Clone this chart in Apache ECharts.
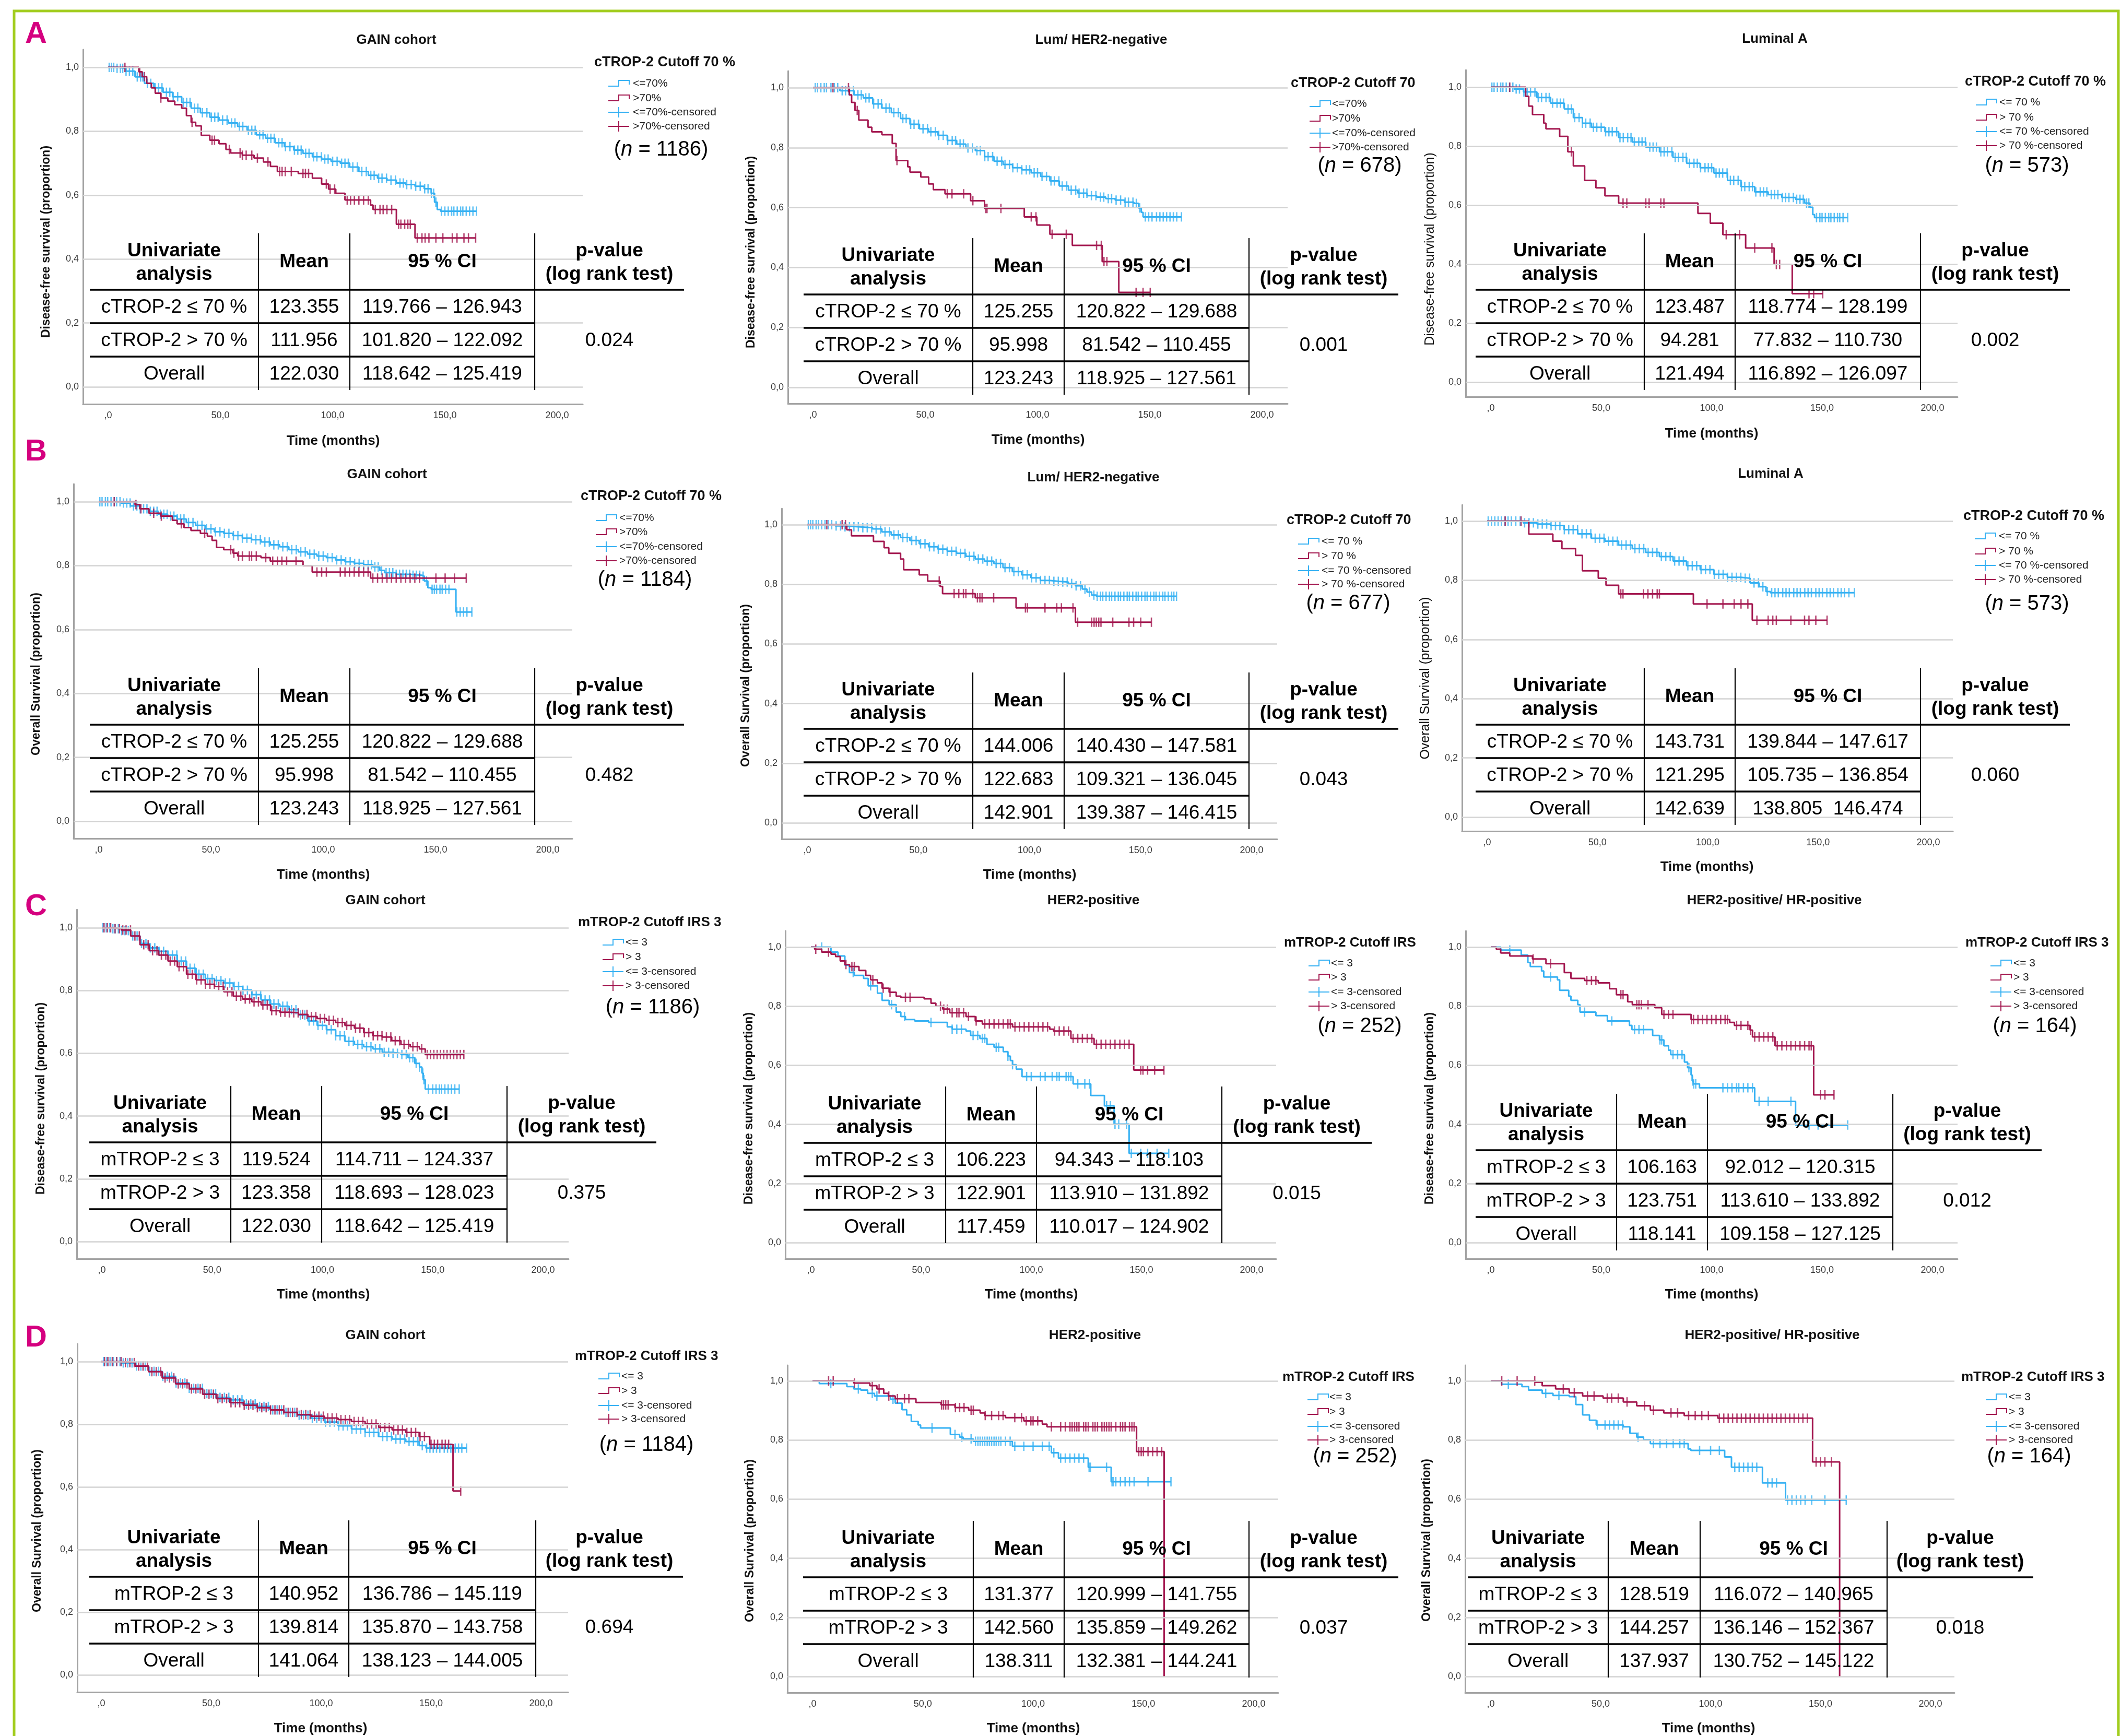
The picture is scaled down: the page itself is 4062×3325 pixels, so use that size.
<!DOCTYPE html>
<html><head><meta charset="utf-8">
<script src="https://cdn.jsdelivr.net/npm/echarts@6/dist/echarts.min.js"></script>
<style>html,body{margin:0;padding:0;background:#fff}#c{width:4062px;height:3325px}</style>
</head><body><div id="c"></div>
<script>
// ---------------- DATA ----------------
const xTickValues = [0, 50, 100, 150, 200];
const yTickValues = [0, 0.2, 0.4, 0.6, 0.8, 1];

// A1 GAIN cohort DFS
const a1BlueSteps = [[0,1],[3.7,.997],[7.9,.988],[12,.97],[16.2,.95],[20.4,.936],[24.5,.922],[28.7,.908],[32.8,.89],[37,.872],[41.1,.858],[45.3,.844],[49.4,.835],[53.6,.826],[57.7,.815],[61.9,.803],[66,.789],[70.2,.778],[74.4,.764],[78.5,.752],[82.7,.741],[86.8,.731],[91,.72],[95.1,.713],[99.3,.706],[103.4,.7],[107.6,.688],[111.7,.674],[115.9,.662],[120,.653],[124.2,.647],[128.4,.638],[132.5,.633],[136.7,.628],[140.8,.62],[143.9,.606],[145.4,.578],[146.6,.555],[148.1,.55]];
const a1BlueCens = [0.5,1.5,2.5,4,5.5,6.5,8,9.5,11,13,14.5,15.5,17.5,19,21,22.5,24,26,27.5,29,31,33.5,35,36.5,38.5,40,42,44,46,47.5,49,51,53,55,56.5,58.5,60,62.5,64,65.5,67.5,69,71,72.5,74,76,77.5,79,81,83,84.5,86,88,89.5,91.5,93,95,96.5,98,100,102,104,105.5,107,109,111,113,115,117,118.5,120.5,122,124,126,128,130,131.5,133,135,137,139,141,142.5,144,145,146,148.5,150,151.5,153,154,155.5,157,158,159.5,161,162.5,164.1];
const a1RedSteps = [[0,1],[13.7,.986],[15.2,.971],[17.2,.95],[19.3,.936],[21,.919],[23.5,.904],[26.6,.894],[29.7,.883],[32.8,.872],[34.9,.849],[37,.828],[39,.817],[41.5,.787],[45.3,.772],[49.4,.761],[52.5,.743],[54.6,.732],[59.8,.725],[65,.716],[69.2,.704],[72.3,.69],[75.4,.674],[84.7,.668],[91,.653],[95.1,.635],[98.2,.619],[101.4,.606],[105.5,.585],[116.9,.569],[118,.555],[128.4,.509],[136.7,.466]];
const a1RedCens = [7.5,14.1,16.2,23.5,37.4,46.3,47.4,54,58.8,59.8,61.5,64,66.5,71.2,76.4,77.5,78.9,81.6,86.8,87.9,89.3,97.2,98.9,100.9,106.5,108,109.7,111.7,113.8,115.9,119,121.1,122.5,124.2,126.3,129.4,130.4,132.1,133.5,134.6,137.7,139.8,141.2,142.9,146,149.1,153.3,155.4,158.5,160.5,163.7];
const a1Table = [['cTROP-2 ≤ 70 %','123.355','119.766 – 126.943'],['cTROP-2 > 70 %','111.956','101.820 – 122.092'],['Overall','122.030','118.642 – 125.419']];
const a1P = '0.024';

// A2 Lum/HER2-negative DFS
const a2BlueSteps = [[0,1],[12,.99],[18.3,.976],[22.4,.966],[26.6,.946],[30.7,.932],[34.9,.917],[39,.897],[43.2,.878],[47.4,.863],[51.5,.853],[55.7,.841],[59.8,.824],[64,.812],[68.1,.799],[72.3,.79],[76.4,.77],[80.6,.755],[84.7,.744],[88.9,.733],[93,.726],[97.2,.716],[101.4,.704],[105.5,.689],[109.7,.672],[113.8,.658],[118,.648],[122.1,.64],[126.3,.635],[130.4,.63],[134.6,.625],[138.7,.618],[142.9,.614],[145,.599],[146.2,.584],[147,.569]];
const a2BlueCens = [1,2,3.5,5,6,8,9.5,11,13,14.5,16,18,20,21.5,23.5,25,27,29,30.5,32.5,34,36,38,40,41.5,43.5,45,47,49,51,52.5,54.5,56,58,60,62,63.5,65.5,67,69,71,73,74.5,76.5,78,80,82,84,85.5,87.5,89,91,93,95,96.5,98.5,100,102,104,106,107.5,109.5,111,113,115,117,118.5,120.5,122,124,126,128,129.5,131.5,133,135,137,139,140.5,142.5,144,145.5,148,149.5,151,153,154.5,156,157.5,159,160.5,162,164.1];
const a2RedSteps = [[0,1],[16.2,.976],[17.2,.951],[18.7,.924],[20.4,.892],[24.5,.868],[26.2,.853],[30.7,.843],[35.3,.814],[37,.757],[42.2,.736],[43.2,.718],[48,.702],[51.5,.679],[53.6,.66],[58.8,.646],[70.2,.623],[76.4,.597],[94.1,.569],[99.7,.542],[105.5,.511],[115.5,.474],[128.8,.42],[136.2,.317]];
const a2RedCens = [8.9,15.8,19.7,37.4,59.8,61.9,67.1,71.2,76.9,77.5,83.7,97.2,99.3,106.5,112.8,126.3,128.4,129.6,130.9,143.9,147,150.2];
const a2Table = [['cTROP-2 ≤ 70 %','125.255','120.822 – 129.688'],['cTROP-2 > 70 %','95.998','81.542 – 110.455'],['Overall','123.243','118.925 – 127.561']];
const a2P = '0.001';

// A3 Luminal A DFS
const a3BlueSteps = [[0,1],[10.7,.994],[14.8,.984],[20.9,.965],[27.1,.946],[33.3,.926],[37.4,.897],[41.5,.878],[45.6,.864],[51.7,.849],[57.9,.829],[64.1,.814],[70.2,.797],[76.4,.781],[82.5,.762],[88.7,.742],[94.8,.727],[101,.709],[107.2,.684],[113.3,.663],[119.5,.645],[125.6,.636],[131.8,.626],[138,.62],[142.1,.607],[144.5,.593],[145.8,.568],[146.6,.558]];
const a3BlueCens = [0.5,1.5,3,4.5,5.5,7,8.5,10,11.5,13,15,16.5,18,20,21.5,23,25,26.5,28,30,31.5,33,35,36.5,38,40,41.5,43,45,46.5,48,50,52,53.5,55,57,58.5,60,62,63.5,65,67,68.5,70,72,73.5,75,77,78.5,80,82,83.5,85,87,88.5,90,92,93.5,95,97,98.5,100,102,103.5,105,107,108.5,110,112,113.5,115,117,118.5,120,122,123.5,125,127,128.5,130,132,133.5,135,137,138.5,140,141.5,143,144,147.5,149,150,151.5,153,154,155.5,157,158,159.5,161.6];
const a3RedSteps = [[0,1],[15.8,.969],[17.2,.936],[18.9,.907],[24,.878],[25,.859],[31.2,.833],[34.9,.781],[37.4,.733],[42.5,.684],[47.6,.659],[51.7,.632],[57.9,.607],[93.8,.572],[99.4,.539],[105.1,.5],[115.4,.455],[128.3,.399],[136.5,.3]];
const a3RedCens = [8.6,36.5,59.9,61.6,70.2,71.7,77,78.4,106.6,112.7,119.5,127.3,129.3,130.8,144.1,146.2,150.3];
const a3Table = [['cTROP-2 ≤ 70 %','123.487','118.774 – 128.199'],['cTROP-2 > 70 %','94.281','77.832 – 110.730'],['Overall','121.494','116.892 – 126.097']];
const a3P = '0.002';

// B1 GAIN cohort OS
const b1BlueSteps = [[0,1],[10,.996],[14.1,.987],[18.3,.978],[22.4,.97],[26.6,.961],[30.7,.955],[34.9,.946],[39,.935],[43.2,.926],[47.4,.915],[51.5,.906],[55.7,.901],[59.8,.894],[64,.886],[68.1,.881],[72.3,.874],[76.4,.865],[80.6,.859],[84.7,.85],[88.9,.843],[93,.836],[97.2,.83],[101.4,.825],[105.5,.818],[109.7,.812],[113.8,.807],[118,.803],[122.1,.796],[125.2,.785],[127.3,.778],[132.5,.773],[138.7,.77],[143.9,.767],[145,.752],[146.6,.731],[148.1,.726],[159.1,.655]];
const b1BlueCens = [0.5,1.5,3,4,5.5,7,8,9.5,11,12.5,14,15.5,17,18.5,20,21.5,23,24.5,26,27.5,29,30.5,32,33.5,35,36.5,38,40,42,44,46,48,50,52,54,56,58,60,62,64,66,68,70,72,74,76,78,80,82,84,86,88,90,92,94,96,98,100,102,104,106,108,110,112,114,116,118,120,121.5,123,124.5,126,128,129.5,131,132.5,134,135.5,137,138.5,140,141.5,143,144.5,146,148.5,149.5,150.5,152,153,154.5,156,159.5,161,162.5,164,166.2];
const b1RedSteps = [[0,1],[16.2,.991],[18.3,.978],[22.4,.964],[27.6,.955],[32.8,.942],[34.9,.931],[38,.919],[41.1,.91],[45.3,.901],[48.4,.892],[50.5,.879],[52.5,.857],[55.7,.85],[59.8,.839],[61.9,.83],[72.3,.825],[76.4,.814],[91,.8],[95.1,.78],[121.1,.761]];
const b1RedCens = [6.9,16.6,18.8,24.5,27.9,36.8,47.2,58.8,60.2,62.3,64,67.1,68.1,70.2,74.4,77.5,79.6,81.6,83.7,87.9,97.2,99.3,101.4,107.6,109.7,111.7,113.8,115.9,118,120,122.1,124.2,126.3,128.4,130.4,132.5,134.6,136.7,138.7,140.8,142.9,150.2,154.3,158.5,163.7];
const b1Table = [['cTROP-2 ≤ 70 %','125.255','120.822 – 129.688'],['cTROP-2 > 70 %','95.998','81.542 – 110.455'],['Overall','123.243','118.925 – 127.561']];
const b1P = '0.482';

// B2 Lum/HER2-negative OS
const b2BlueSteps = [[0,1],[12.6,.996],[16.8,.993],[23.1,.99],[29.4,.986],[33.6,.976],[37.8,.966],[42,.957],[46.2,.947],[50.4,.936],[54.6,.926],[58.8,.918],[63,.911],[67.2,.904],[71.4,.894],[75.6,.885],[79.8,.878],[84,.87],[88.1,.856],[92.3,.843],[96.5,.832],[100.7,.822],[104.9,.813],[109.1,.81],[113.3,.808],[117.5,.803],[120.7,.795],[123.8,.784],[125.9,.774],[128,.764],[130.1,.76]];
const b2BlueCens = [0.5,1.5,2.5,4,5,6.5,8,9.5,11,13,15,17,19,21,23,25,27,29,31,33,35,37,39,41,43,45,47,49,51,53,55,57,59,61,63,65,67,69,71,73,75,77,79,81,83,85,87,89,91,93,95,97,99,101,103,105,107,109,111,113,115,117,119,121,123,125,127,129,130.5,132,133,134.5,136,137,138.5,140,141,142.5,144,145,146.5,148,149,150.5,152,153,154.5,156,157,158.5,160,161,162.5,164,165,166.2];
const b2RedSteps = [[0,1],[17.8,.983],[19.9,.963],[29.8,.944],[34.6,.923],[36.7,.904],[42,.885],[43.4,.849],[50.4,.832],[54.2,.811],[59.8,.793],[60.9,.769],[75.6,.755],[94,.721],[120.7,.673]];
const b2RedCens = [8.8,15.7,17.2,59.4,66.1,68.2,70.3,71.4,74.5,76.6,77.7,78.7,83.9,98.2,99.1,107,112.3,114.4,119.6,121.7,128,129.1,130.1,131.2,132.2,137.5,144.8,146.9,150.1,154.9];
const b2Table = [['cTROP-2 ≤ 70 %','144.006','140.430 – 147.581'],['cTROP-2 > 70 %','122.683','109.321 – 136.045'],['Overall','142.901','139.387 – 146.415']];
const b2P = '0.043';

// B3 Luminal A OS
const b3BlueSteps = [[0,1],[16.4,.994],[22.6,.99],[28.8,.985],[34.9,.971],[41.1,.957],[47.3,.942],[53.4,.932],[59.6,.919],[65.8,.907],[71.9,.894],[78.1,.88],[84.3,.865],[90.4,.849],[96.6,.836],[102.8,.82],[108.9,.81],[115.1,.807],[119.2,.791],[123.3,.778],[126.4,.762],[128.4,.758]];
const b3BlueCens = [0.5,2,3.5,5,6.5,8,9.5,11,13,15,17,19,21,23,25,27,29,31,33,35,37,39,41,43,45,47,49,51,53,55,57,59,61,63,65,67,69,71,73,75,77,79,81,83,85,87,89,91,93,95,97,99,101,103,105,107,109,111,113,115,117,119,121,123,125,127,129,130.5,132,134,135.5,137,139,140.5,142,144,145.5,147,149,150.5,152,154,155.5,157,159,160.5,162,164,166.5];
const b3RedSteps = [[0,1],[18.9,.956],[29.8,.932],[33.9,.907],[40.1,.884],[43.2,.832],[50.4,.807],[53.9,.783],[59.6,.754],[93.5,.72],[120.2,.665]];
const b3RedCens = [8.2,15.4,60.6,61.6,70.9,72.9,75,77.1,78.1,99.7,106.9,112,115.1,118.2,122.3,127.4,129.5,131.1,137.7,143.9,145.9,149,154.1];
const b3Table = [['cTROP-2 ≤ 70 %','143.731','139.844 – 147.617'],['cTROP-2 > 70 %','121.295','105.735 – 136.854'],['Overall','142.639','138.805  146.474']];
const b3P = '0.060';

// C1 GAIN cohort DFS (mTROP-2)
const c1BlueSteps = [[0,1],[4.6,.997],[8.9,.991],[13.1,.974],[17.3,.95],[21.5,.936],[25.8,.925],[30,.913],[34.2,.894],[38.4,.871],[42.7,.852],[46.9,.838],[51.1,.832],[55.3,.824],[59.6,.813],[63.8,.801],[68,.787],[72.2,.77],[76.5,.757],[80.7,.75],[84.9,.739],[89.1,.722],[93.4,.703],[97.6,.689],[101.8,.675],[106,.656],[110.2,.638],[114.5,.628],[118.7,.621],[122.9,.614],[127.1,.603],[131.4,.6],[135.6,.596],[138.8,.586],[141.9,.568],[144,.556],[145.1,.537],[145.7,.516],[146.6,.486]];
const c1BlueCens = [0.5,2,3.5,5,6,7.5,9,10.5,12,14,16,18,20,22,24,26,28,30,32,34,36,38,40,42,44,46,48,50,52,54,56,58,60,62,64,66,68,70,72,74,76,78,80,82,84,86,88,90,92,94,96,98,100,102,104,106,108,110,112,114,116,118,120,122,124,126,128,130,132,134,136,138,139.5,141,142.5,144,145.5,146,148,150,151.5,153,154,155.5,157,158.5,160,162];
const c1RedSteps = [[0,1],[4.6,.997],[8.9,.993],[13.1,.974],[17.3,.946],[21.5,.927],[25.8,.913],[30,.894],[34.2,.876],[38.4,.852],[42.7,.834],[46.9,.82],[51.1,.813],[55.3,.796],[59.6,.782],[63.8,.773],[68,.764],[72.2,.754],[76.5,.736],[80.7,.731],[84.9,.729],[89.1,.724],[93.4,.717],[97.6,.711],[101.8,.705],[106,.698],[110.2,.689],[114.5,.68],[118.7,.666],[122.9,.656],[127.1,.652],[131.4,.64],[135.6,.628],[139.8,.621],[144,.614],[146.6,.596]];
const c1RedCens = [1,2.5,4,6,8,9.5,11,13,15,17,19,21,23,25,27,29,31,33,35,37,39,41,43,45,47,49,51,53,55,57,59,61,63,65,67,69,71,73,75,77,79,81,83,85,87,89,91,93,95,97,99,101,103,105,107,109,111,113,115,117,119,121,123,125,127,129,131,133,135,137,139,141,143,145,147.5,149,150.5,152,153.5,155,156.5,158,159.5,161,162.5,164.1];
const c1Table = [['mTROP-2 ≤ 3','119.524','114.711 – 124.337'],['mTROP-2 > 3','123.358','118.693 – 128.023'],['Overall','122.030','118.642 – 125.419']];
const c1P = '0.375';

// C2 HER2-positive DFS
const c2BlueSteps = [[0,1],[9.1,.983],[12.3,.97],[15.4,.939],[17.5,.914],[19.7,.904],[23.9,.894],[26,.869],[30.2,.844],[32.3,.82],[35.5,.805],[38.7,.78],[40.8,.765],[42.9,.755],[47.1,.75],[53.5,.745],[61.9,.73],[64.1,.722],[70.4,.716],[72.5,.701],[76.7,.691],[79.9,.671],[83.1,.661],[87.3,.646],[89.4,.631],[90.5,.616],[91.5,.602],[93.2,.587],[95.8,.562],[119,.537],[127,.498],[133.2,.463],[137.6,.401],[144.4,.302]];
const c2BlueCens = [4.9,19.2,27.1,36.6,42.5,54.5,64.1,66.2,68.3,73.6,75.7,77.8,78.9,84.1,85.2,89.4,91.5,97.9,100,104.2,106.3,109.5,111.6,112.7,115.8,116.9,118,121.1,124.3,126.4,134.2,135.9,138,139.7,143.3,145.4,149.7,152.8,157.1,162.4];
const c2RedSteps = [[0,1],[1.7,.993],[4.9,.983],[9.1,.976],[11.2,.968],[13.3,.953],[15.4,.941],[17.5,.934],[21.8,.921],[24.9,.904],[27.1,.889],[30.2,.879],[32.3,.861],[35.5,.847],[38.7,.834],[40.8,.83],[51.4,.825],[54.5,.81],[56.7,.8],[59.8,.79],[63,.778],[70.4,.765],[74.6,.75],[77.8,.74],[91.5,.73],[108.4,.722],[110.1,.716],[118,.691],[128.5,.671],[146.5,.584]];
const c2RedCens = [2.2,8,15.9,18.6,19.7,28.1,32.8,35.9,42.9,45,58.8,60.3,61.9,64.1,66.2,67.2,69.3,71.5,75,78.9,81,83.1,85.2,87.3,89.4,90.5,92.6,94.7,96.8,98.9,101,103.2,105.3,107.4,110.6,112.7,114.8,116.9,119,121.1,123.2,125.4,127.5,129.6,131.7,133.8,135.9,138,140.2,142.3,144.4,149.7,150.7,152.8,156,160.2];
const c2Table = [['mTROP-2 ≤ 3','106.223','94.343 – 118.103'],['mTROP-2 > 3','122.901','113.910 – 131.892'],['Overall','117.459','110.017 – 124.902']];
const c2P = '0.015';

// C3 HER2-positive/HR-positive DFS
const c3BlueSteps = [[0,1],[4.5,.99],[13.8,.973],[16.8,.948],[17.9,.934],[23,.919],[24,.899],[30.2,.889],[31.2,.854],[35.3,.834],[36.3,.82],[39.4,.805],[40.4,.78],[47.6,.768],[52.8,.75],[62.8,.735],[63.9,.721],[73.3,.701],[76.4,.686],[78.4,.666],[80.5,.651],[81.5,.636],[87.7,.611],[89.1,.592],[90.7,.567],[91.2,.547],[91.8,.537],[94.5,.524],[119.5,.478],[138,.398]];
const c3BlueCens = [8.6,27.1,42.5,54.8,65.1,67.1,69.2,76.6,77.4,82.5,84.6,86.6,89.7,91.4,91.9,92.8,105.1,107.2,109.2,111.3,112.3,114.4,116.4,118.5,121.5,125.6,135.9,144.1,148.2,161.6];
const c3RedSteps = [[0,1],[2.5,.993],[4.5,.98],[8.6,.97],[18.9,.96],[25,.944],[33.3,.914],[36.3,.894],[42.5,.887],[48.7,.879],[53.8,.859],[56.9,.839],[62,.815],[64.1,.805],[74.3,.795],[77.4,.772],[90.7,.755],[108.2,.745],[110.3,.735],[117.4,.719],[118.5,.696],[128.7,.666],[146.2,.5]];
const c3RedCens = [19.2,27.1,43.5,45.6,47.6,58.9,59.9,66.1,67.1,68.2,71.2,78.4,80.5,82.5,90.9,91.8,93.8,95.9,97.9,100,102,104.1,106.1,107.2,111.3,113.3,116.4,117.6,119.5,121.5,123.6,125.6,127.7,129.7,131.8,133.9,135.9,138,140,142.1,144.1,145.1,149.3,151.3,155.4];
const c3Table = [['mTROP-2 ≤ 3','106.163','92.012 – 120.315'],['mTROP-2 > 3','123.751','113.610 – 133.892'],['Overall','118.141','109.158 – 127.125']];
const c3P = '0.012';

// D1 GAIN cohort OS (mTROP-2)
const d1BlueSteps = [[0,1],[9.2,.996],[15.4,.986],[21.5,.969],[27.7,.953],[33.8,.932],[40,.915],[46.1,.898],[52.3,.886],[58.5,.878],[64.6,.865],[70.8,.857],[76.9,.846],[83.1,.838],[89.2,.829],[95.4,.819],[101.5,.807],[107.7,.795],[113.8,.785],[120,.774],[126.2,.761],[132.3,.753],[138.5,.745],[144.6,.732],[147.7,.724]];
const d1BlueCens = [1,2.5,4,5.5,7,8.5,10,12,14,16,18,20,22,24,26,28,30,32,34,36,38,40,42,44,46,48,50,52,54,56,58,60,62,64,66,68,70,72,74,76,78,80,82,84,86,88,90,92,94,96,98,100,102,104,106,108,110,112,114,116,118,120,122,124,126,128,130,132,134,136,138,140,142,144,146,148,149.5,151,152.5,154,156,157.5,159,161,162.5,164,166.2];
const d1RedSteps = [[0,1],[9.2,.997],[15.4,.986],[21.5,.968],[27.7,.948],[33.8,.929],[40,.913],[46.1,.896],[52.3,.882],[58.5,.869],[64.6,.861],[70.8,.853],[76.9,.846],[83.1,.838],[89.2,.831],[95.4,.826],[101.5,.82],[107.7,.815],[113.8,.809],[120,.801],[126.2,.79],[132.3,.782],[138.5,.774],[144.6,.761],[149.4,.736],[160,.587]];
const d1RedCens = [1.5,3,5,7,9,11,13,15,17,19,21,23,25,27,29,31,33,35,37,39,41,43,45,47,49,51,53,55,57,59,61,63,65,67,69,71,73,75,77,79,81,83,85,87,89,91,93,95,97,99,101,103,105,107,109,111,113,115,117,119,121,123,125,127,129,131,133,135,137,139,141,143,145,147,150,151.5,153,155,156.5,158,163.5];
const d1Table = [['mTROP-2 ≤ 3','140.952','136.786 – 145.119'],['mTROP-2 > 3','139.814','135.870 – 143.758'],['Overall','141.064','138.123 – 144.005']];
const d1P = '0.694';

// D2 HER2-positive OS
const d2BlueSteps = [[0,1],[3.1,.991],[15.6,.981],[18.7,.973],[21.9,.969],[25,.958],[28.1,.949],[35.4,.938],[37.5,.925],[40.6,.903],[42.7,.885],[44.8,.863],[47.9,.851],[49,.841],[62.5,.819],[66.7,.81],[68.3,.804],[72.9,.796],[90.6,.779],[108.3,.757],[111.5,.739],[125,.708],[135.4,.659]];
const d2BlueCens = [8.3,20.8,27.1,29.2,36.5,54.2,64.6,67.7,71.9,73.9,75,76,77.1,78.1,79.2,80.2,81.2,82.3,83.3,84.4,85.4,87.5,89.6,91.7,95.8,100,104.2,107.3,109.4,112.5,114.6,116.7,118.8,120.8,122.9,125.4,126,133.3,135.8,136.4,137.5,139.6,141.7,143.7,145.8,152.1,162.5];
const d2RedSteps = [[0,1],[18.7,.993],[26,.984],[29.2,.973],[32.3,.958],[34.4,.949],[37.5,.94],[46.9,.927],[58.3,.919],[64.6,.91],[70.8,.901],[76,.892],[78.1,.883],[87.5,.876],[95.8,.865],[104.2,.854],[106.3,.845],[146.9,.761],[159.4,0]];
const d2RedCens = [7.3,9.4,19,27.1,30.2,34.6,38.5,41.7,43.7,58.5,59.4,60.4,61.5,64.8,66.7,68.7,71.9,72.9,78.3,81.2,84.4,86.4,91.7,94.8,96.9,99,100,102.1,108.3,112.5,114.6,116.7,117.7,118.8,119.8,120.8,122.9,123.9,125,127.1,128.1,129.2,131.2,132.3,133.3,134.4,135.4,137.5,139.6,140.6,141.7,143.7,144.8,145.8,147.9,149,150,152.1,154.2,156.2,158.3];
const d2Table = [['mTROP-2 ≤ 3','131.377','120.999 – 141.755'],['mTROP-2 > 3','142.560','135.859 – 149.262'],['Overall','138.311','132.381 – 144.241']];
const d2P = '0.037';

// D3 HER2-positive/HR-positive OS
const d3BlueSteps = [[0,1],[4.9,.989],[14.2,.981],[17.2,.969],[23.4,.958],[28.3,.951],[35.7,.947],[38.7,.92],[41.8,.885],[44.9,.867],[48,.851],[60.3,.845],[63.3,.823],[66.4,.81],[69.5,.801],[72.6,.788],[89.8,.77],[91,.765],[106.4,.743],[109.5,.708],[123.6,.655],[134.1,.597]];
const d3BlueCens = [8,25,31,48.5,52,54,56,58,60,67,74,77,80,83,86,88,95,100,104,111,113,115,117,119,121,126,128,130,135,137,139,141,143,146,152,161.7];
const d3RedSteps = [[0,1],[20.3,.996],[23.4,.984],[29.5,.973],[35.7,.96],[41.8,.949],[51.1,.942],[60.3,.929],[66.4,.916],[72.6,.901],[78.7,.892],[88,.883],[103.3,.874],[146.4,.726],[158.7,0]];
const d3RedCens = [5,12,20,33,38,44,47,53,55,58,62,70,74,82,85,90,93,96,99,104,106,108,110,112,114,116,118,120,122,124,126,128,130,132,134,136,138,140,142,144,148,150,152,155];
const d3Table = [['mTROP-2 ≤ 3','128.519','116.072 – 140.965'],['mTROP-2 > 3','144.257','136.146 – 152.367'],['Overall','137.937','130.752 – 145.122']];
const d3P = '0.018';

// text content
const panelTitles = ['GAIN cohort','Lum/ HER2-negative','Luminal A','GAIN cohort','Lum/ HER2-negative','Luminal A','GAIN cohort','HER2-positive','HER2-positive/ HR-positive','GAIN cohort','HER2-positive','HER2-positive/ HR-positive'];
const DFS = 'Disease-free survival (proportion)', OS = 'Overall Survival (proportion)';
const yTitles = [DFS,DFS,DFS,OS,OS,OS,DFS,DFS,DFS,OS,OS,OS];
const legendTitles = ['cTROP-2 Cutoff 70 %','cTROP-2 Cutoff 70 %','cTROP-2 Cutoff 70 %','cTROP-2 Cutoff 70 %','cTROP-2 Cutoff 70 %','cTROP-2 Cutoff 70 %','mTROP-2 Cutoff IRS 3','mTROP-2 Cutoff IRS 3','mTROP-2 Cutoff IRS 3','mTROP-2 Cutoff IRS 3','mTROP-2 Cutoff IRS 3','mTROP-2 Cutoff IRS 3'];
const legendItemsA = ['<=70%','>70%','<=70%-censored','>70%-censored'];
const legendItemsB = ['<= 70 %','> 70 %','<= 70 %-censored','> 70 %-censored'];
const legendItemsC = ['<= 3','> 3','<= 3-censored','> 3-censored'];
const nValues = ['1186','678','573','1184','677','573','1186','252','164','1184','252','164'];
const headerLabels = [['Univariate','analysis'],['Mean'],['95 % CI'],['p-value','(log rank test)']];
const panelLetters = ['A','B','C','D'];

// ---------------- LAYOUT (positions / sizes) ----------------
const geo = [
 {L:159,R:1116,T:95,B:774,X0:207,X200:1067,Y1:129,Y0:741, title:[759,77], yt:[89,463], xt:[638,845], leg:{x:1138,y:120,it:[160,188,215,242],ix:1165,lx:1212,fs:27}, n:[1266,287], tab:{x:[172,495,670,1024,1310],y:447}},
 {L:1509,R:2466,T:136,B:773,X0:1557,X200:2417,Y1:168,Y0:742, title:[2109,77], yt:[1439,483], xt:[1988,843], leg:{x:2472,y:160,it:[199,227,255,282],ix:2508,lx:2551,clip:2730,fs:27}, n:[2604,318], tab:{x:[1539,1863,2038,2392,2678],y:456}},
 {L:2807,R:3749,T:134,B:760,X0:2855,X200:3701,Y1:167,Y0:732, title:[3399,75], yt:[2739,477], xt:[3278,831], leg:{x:3763,y:157,it:[196,225,252,279],ix:3784,lx:3829,fs:27}, n:[3882,318], tab:{x:[2826,3149,3323,3678,3964],y:447}, thinY:true},
 {L:141,R:1096,T:927,B:1606,X0:189,X200:1049,Y1:961,Y0:1573, title:[741,909], yt:[70,1291], xt:[619,1676], leg:{x:1112,y:951,it:[992,1019,1047,1074],ix:1141,lx:1186,fs:27}, n:[1235,1111], tab:{x:[172,495,670,1024,1310],y:1280}},
 {L:1497,R:2446,T:974,B:1607,X0:1546,X200:2397,Y1:1005,Y0:1576, title:[2094,915], yt:[1429,1313], xt:[1972,1676], leg:{x:2464,y:997,it:[1037,1065,1093,1119],ix:2486,lx:2531,clip:2730,fs:27}, n:[2582,1156], tab:{x:[1539,1863,2038,2392,2678],y:1288}},
 {L:2800,R:3740,T:967,B:1592,X0:2848,X200:3693,Y1:998,Y0:1565, title:[3391,908], yt:[2730,1299], xt:[3269,1661], leg:{x:3760,y:989,it:[1027,1056,1083,1110],ix:3782,lx:3828,fs:27}, n:[3882,1157], tab:{x:[2826,3149,3323,3678,3964],y:1280}, thinY:true},
 {L:147,R:1089,T:1742,B:2411,X0:195,X200:1040,Y1:1777,Y0:2378, title:[738,1725], yt:[79,2104], xt:[619,2480], leg:{x:1107,y:1767,it:[1805,1833,1861,1888],ix:1154,lx:1198,fs:26}, n:[1250,1930], tab:{x:[171,442,616,971,1257],y:2080}},
 {L:1504,R:2444,T:1783,B:2411,X0:1553,X200:2397,Y1:1814,Y0:2380, title:[2094,1725], yt:[1435,2123], xt:[1975,2480], leg:{x:2459,y:1806,it:[1845,1872,1900,1927],ix:2506,lx:2549,clip:2730,fs:26}, n:[2604,1966], tab:{x:[1539,1811,1985,2340,2627],y:2081}},
 {L:2807,R:3749,T:1783,B:2411,X0:2855,X200:3701,Y1:1814,Y0:2380, title:[3398,1725], yt:[2739,2123], xt:[3278,2480], leg:{x:3764,y:1806,it:[1845,1872,1900,1927],ix:3812,lx:3856,fs:26}, n:[3897,1966], tab:{x:[2826,3096,3270,3625,3910],y:2095}},
 {L:148,R:1088,T:2574,B:3241,X0:194,X200:1036,Y1:2608,Y0:3208, title:[738,2558], yt:[72,2932], xt:[614,3311], leg:{x:1101,y:2598,it:[2636,2664,2692,2718],ix:1146,lx:1190,fs:26}, n:[1238,2768], tab:{x:[171,495,668,1026,1308],y:2912}},
 {L:1508,R:2448,T:2615,B:3242,X0:1556,X200:2401,Y1:2645,Y0:3211, title:[2097,2558], yt:[1437,2951], xt:[1979,3311], leg:{x:2456,y:2638,it:[2676,2704,2732,2758],ix:2504,lx:2546,clip:2730,fs:26}, n:[2595,2790], tab:{x:[1538,1864,2038,2392,2678],y:2913}},
 {L:2806,R:3743,T:2615,B:3242,X0:2855,X200:3697,Y1:2645,Y0:3211, title:[3394,2558], yt:[2733,2950], xt:[3272,3311], leg:{x:3756,y:2638,it:[2676,2704,2732,2758],ix:3803,lx:3847,fs:26}, n:[3886,2790], tab:{x:[2811,3080,3256,3614,3894],y:2913}}
];
const letterPos = [[69,66],[69,866],[69,1737],[69,2563]];

const panels = [
 {blue:a1BlueSteps,blueC:a1BlueCens,red:a1RedSteps,redC:a1RedCens,table:a1Table,p:a1P,items:legendItemsA},
 {blue:a2BlueSteps,blueC:a2BlueCens,red:a2RedSteps,redC:a2RedCens,table:a2Table,p:a2P,items:legendItemsA},
 {blue:a3BlueSteps,blueC:a3BlueCens,red:a3RedSteps,redC:a3RedCens,table:a3Table,p:a3P,items:legendItemsB},
 {blue:b1BlueSteps,blueC:b1BlueCens,red:b1RedSteps,redC:b1RedCens,table:b1Table,p:b1P,items:legendItemsA},
 {blue:b2BlueSteps,blueC:b2BlueCens,red:b2RedSteps,redC:b2RedCens,table:b2Table,p:b2P,items:legendItemsB},
 {blue:b3BlueSteps,blueC:b3BlueCens,red:b3RedSteps,redC:b3RedCens,table:b3Table,p:b3P,items:legendItemsB},
 {blue:c1BlueSteps,blueC:c1BlueCens,red:c1RedSteps,redC:c1RedCens,table:c1Table,p:c1P,items:legendItemsC},
 {blue:c2BlueSteps,blueC:c2BlueCens,red:c2RedSteps,redC:c2RedCens,table:c2Table,p:c2P,items:legendItemsC},
 {blue:c3BlueSteps,blueC:c3BlueCens,red:c3RedSteps,redC:c3RedCens,table:c3Table,p:c3P,items:legendItemsC},
 {blue:d1BlueSteps,blueC:d1BlueCens,red:d1RedSteps,redC:d1RedCens,table:d1Table,p:d1P,items:legendItemsC},
 {blue:d2BlueSteps,blueC:d2BlueCens,red:d2RedSteps,redC:d2RedCens,table:d2Table,p:d2P,items:legendItemsC},
 {blue:d3BlueSteps,blueC:d3BlueCens,red:d3RedSteps,redC:d3RedCens,table:d3Table,p:d3P,items:legendItemsC}
];

// ---------------- BUILD ----------------
const FONT = '"Liberation Sans", Arial, Helvetica, sans-serif';
const BLUE = '#36b1f3', RED = '#a3174f', GRID = '#d3d3d3', AXIS = '#a3a3a3';

function stepData(steps, cens) {
  const d = steps.map(p => [p[0], p[1]]);
  const lastT = d[d.length - 1][0];
  const end = Math.max(lastT, cens.length ? cens[cens.length - 1] : 0);
  if (end > lastT) d.push([end, d[d.length - 1][1]]);
  return d;
}
function survAt(steps, t) {
  let s = 1;
  for (const p of steps) { if (p[0] <= t) s = p[1]; else break; }
  return s;
}
function fmtX(v) { return v === 0 ? ',0' : v.toFixed(1).replace('.', ','); }
function fmtY(v) { return v.toFixed(1).replace('.', ','); }

function txt(x, y, text, size, o) {
  o = o || {};
  const st = {
    text: text, fill: o.color || '#000',
    font: (o.italic ? 'italic ' : '') + (o.bold ? 'bold ' : '') + size + 'px ' + FONT,
    align: o.align || 'center', verticalAlign: 'middle',
    textAlign: o.align || 'center', textVerticalAlign: 'middle'
  };
  if (o.width) { st.width = o.width; st.overflow = 'truncate'; st.ellipsis = ''; }
  return { type: 'text', x: x, y: y, rotation: o.rot || 0, z: 20, silent: true, style: st };
}
function line(x1, y1, x2, y2, color, w) {
  return { type: 'line', z: 19, silent: true, shape: { x1, y1, x2, y2 }, style: { stroke: color, lineWidth: w } };
}

const grids = [], xAxes = [], yAxes = [], series = [], elements = [];

// frame
elements.push({ type: 'rect', z: 5, silent: true, shape: { x: 27, y: 21, width: 4030, height: 3400 }, style: { fill: null, stroke: '#a2cd1f', lineWidth: 5 } });
panelLetters.forEach((l, i) => elements.push(txt(letterPos[i][0], letterPos[i][1], l, 58, { bold: true, color: '#d5007f' })));

panels.forEach((p, i) => {
  const g = geo[i];
  const pxPerX = (g.X200 - g.X0) / 200, pxPerY = (g.Y0 - g.Y1);
  grids.push({ left: g.L, top: g.T, width: g.R - g.L, height: g.B - g.T, containLabel: false });
  xAxes.push({
    gridIndex: i, type: 'value',
    min: (g.L - g.X0) / pxPerX, max: (g.R - g.X0) / pxPerX,
    axisLine: { onZero: false, lineStyle: { color: AXIS, width: 3 } },
    axisTick: { show: false }, splitLine: { show: false },
    axisLabel: { customValues: xTickValues, formatter: fmtX, margin: 13, color: '#383838', fontSize: 18, fontFamily: FONT }
  });
  yAxes.push({
    gridIndex: i, type: 'value',
    min: -(g.B - g.Y0) / pxPerY, max: 1 + (g.Y1 - g.T) / pxPerY,
    axisLine: { onZero: false, lineStyle: { color: AXIS, width: 3 } },
    axisTick: { show: false }, splitLine: { show: false },
    axisLabel: { customValues: yTickValues, formatter: fmtY, margin: 8, color: '#383838', fontSize: 18, fontFamily: FONT }
  });
  // gridlines
  series.push({
    type: 'line', xAxisIndex: i, yAxisIndex: i, data: [[0, 1]], showSymbol: false, silent: true, z: 1,
    lineStyle: { width: 0, opacity: 0 },
    markLine: { silent: true, symbol: ['none', 'none'], label: { show: false }, animation: false,
      lineStyle: { color: GRID, width: 2.5, type: 'solid' }, data: yTickValues.map(v => ({ yAxis: v })) }
  });
  series.push({ type: 'line', step: 'end', xAxisIndex: i, yAxisIndex: i, data: stepData(p.blue, p.blueC), showSymbol: false, silent: true, z: 3, lineStyle: { color: BLUE, width: 3 } });
  series.push({ type: 'line', step: 'end', xAxisIndex: i, yAxisIndex: i, data: stepData(p.red, p.redC), showSymbol: false, silent: true, z: 4, lineStyle: { color: RED, width: 3 } });
  series.push({ type: 'scatter', xAxisIndex: i, yAxisIndex: i, silent: true, z: 3, symbol: 'rect', symbolSize: [2.6, 18], itemStyle: { color: BLUE }, data: p.blueC.map(t => [t, survAt(p.blue, t)]) });
  series.push({ type: 'scatter', xAxisIndex: i, yAxisIndex: i, silent: true, z: 4, symbol: 'rect', symbolSize: [2.6, 18], itemStyle: { color: RED }, data: p.redC.map(t => [t, survAt(p.red, t)]) });

  // titles
  elements.push(txt(g.title[0], g.title[1], panelTitles[i], 26, { bold: true, color: '#111' }));
  elements.push(txt(g.xt[0], g.xt[1], 'Time (months)', 26, { bold: true, color: '#111' }));
  elements.push(txt(g.yt[0], g.yt[1], yTitles[i], g.thinY ? 25 : 23, { bold: !g.thinY, color: '#111', rot: Math.PI / 2 }));

  // legend
  const lg = g.leg;
  elements.push(txt(lg.x, lg.y, legendTitles[i], lg.fs, { bold: true, align: 'left', color: '#111', width: lg.clip ? lg.clip - lg.x : 0 }));
  lg.it.forEach((yy, k) => {
    const col = k % 2 === 0 ? BLUE : RED;
    const x0 = lg.ix;
    if (k < 2) {
      elements.push({ type: 'polyline', z: 19, silent: true, shape: { points: [[x0, yy + 5], [x0 + 20, yy + 5], [x0 + 20, yy - 6], [x0 + 40, yy - 6], [x0 + 40, yy + 2]] }, style: { stroke: col, lineWidth: 2, fill: null } });
    } else {
      elements.push(line(x0, yy, x0 + 40, yy, col, 2));
      elements.push(line(x0 + 20, yy - 10, x0 + 20, yy + 10, col, 2));
    }
    elements.push(txt(lg.lx, yy, p.items[k], 21, { align: 'left', color: '#222', width: lg.clip ? lg.clip - lg.lx : 0 }));
  });

  // n label
  elements.push({ type: 'text', x: g.n[0], y: g.n[1], z: 20, silent: true, style: {
    text: '{a|(}{b|n}{a| = ' + nValues[i] + ')}', align: 'center', verticalAlign: 'middle', textAlign: 'center', textVerticalAlign: 'middle',
    rich: { a: { fontSize: 40, fontFamily: FONT, fill: '#000', color: '#000' }, b: { fontSize: 40, fontFamily: FONT, fontStyle: 'italic', fill: '#000', color: '#000' } }
  } });

  // table
  const tx = g.tab.x, ty = g.tab.y;
  for (let c = 1; c <= 3; c++) elements.push(line(tx[c], ty, tx[c], ty + 300, '#000', 2.2));
  elements.push(line(tx[0], ty + 108, tx[4], ty + 108, '#000', 3.5));
  elements.push(line(tx[0], ty + 172, tx[3], ty + 172, '#000', 3.5));
  elements.push(line(tx[0], ty + 236, tx[3], ty + 236, '#000', 3.5));
  const cx = [0, 1, 2, 3].map(c => (tx[c] + tx[c + 1]) / 2);
  headerLabels.forEach((h, c) => {
    if (h.length === 2) {
      elements.push(txt(cx[c], ty + 34, h[0], 37, { bold: true }));
      elements.push(txt(cx[c], ty + 79, h[1], 37, { bold: true }));
    } else {
      elements.push(txt(cx[c], ty + 55, h[0], 37, { bold: true }));
    }
  });
  p.table.forEach((row, r) => {
    row.forEach((cell, c) => elements.push(txt(cx[c], ty + 142 + 64 * r, cell, 37)));
  });
  elements.push(txt(cx[3], ty + 206, p.p, 37));
});

const chart = echarts.init(document.getElementById('c'), null, { renderer: 'canvas', width: 4062, height: 3325 });
chart.setOption({
  backgroundColor: '#ffffff',
  animation: false,
  grid: grids, xAxis: xAxes, yAxis: yAxes, series: series,
  graphic: { elements: elements }
});
</script></body></html>
